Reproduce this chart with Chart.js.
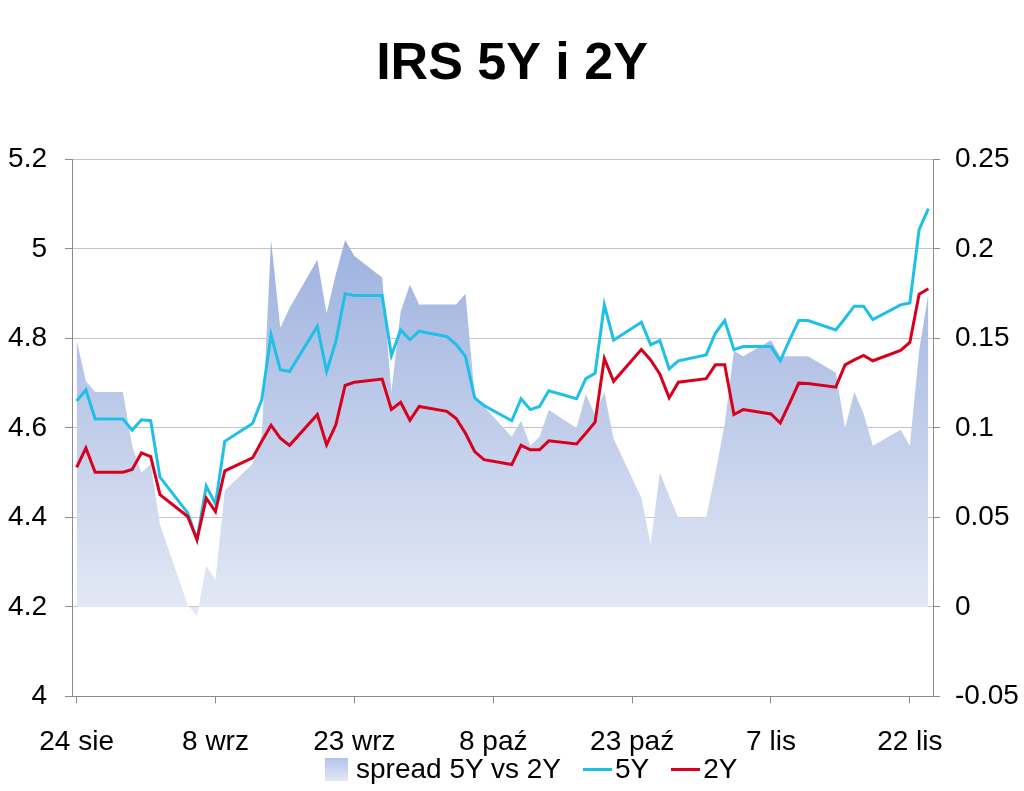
<!DOCTYPE html>
<html>
<head>
<meta charset="utf-8">
<title>IRS 5Y i 2Y</title>
<script src="https://cdn.jsdelivr.net/npm/chart.js@4.4.0/dist/chart.umd.min.js"></script>
<style>
    html, body { margin: 0; padding: 0; background: #fff; }
    #wrap { position: relative; width: 1024px; height: 791px; }
    #legend {
        position: absolute; left: 325px; top: 752px; height: 34px;
        display: flex; align-items: center;
        font-family: 'Liberation Sans', Arial, sans-serif; font-size: 28px; color: #000;
        white-space: nowrap;
    }
    #legend .box { width: 23px; height: 23px; background: linear-gradient(#b3c2ea, #e3e8f5); margin-right: 8px; }
    #legend .line { width: 29px; height: 3px; margin-left: 22px; margin-right: 3px; }
</style>
</head>
<body>
<div id="wrap">
    <canvas id="irs-chart" width="1024" height="791"></canvas>
    <div id="legend"></div>
</div>
<script>
// trading days (24 sie is a Wednesday)
const dates = [
    '2011-08-24', '2011-08-25', '2011-08-26',
    '2011-08-29', '2011-08-30', '2011-08-31', '2011-09-01', '2011-09-02',
    '2011-09-05', '2011-09-06', '2011-09-07', '2011-09-08', '2011-09-09',
    '2011-09-12', '2011-09-13', '2011-09-14', '2011-09-15', '2011-09-16',
    '2011-09-19', '2011-09-20', '2011-09-21', '2011-09-22', '2011-09-23',
    '2011-09-26', '2011-09-27', '2011-09-28', '2011-09-29', '2011-09-30',
    '2011-10-03', '2011-10-04', '2011-10-05', '2011-10-06', '2011-10-07',
    '2011-10-10', '2011-10-11', '2011-10-12', '2011-10-13', '2011-10-14',
    '2011-10-17', '2011-10-18', '2011-10-19', '2011-10-20', '2011-10-21',
    '2011-10-24', '2011-10-25', '2011-10-26', '2011-10-27', '2011-10-28',
    '2011-10-31', '2011-11-01', '2011-11-02', '2011-11-03', '2011-11-04',
    '2011-11-07', '2011-11-08', '2011-11-09', '2011-11-10', '2011-11-11',
    '2011-11-14', '2011-11-15', '2011-11-16', '2011-11-17', '2011-11-18',
    '2011-11-21', '2011-11-22', '2011-11-23', '2011-11-24'
];

const irs5y = [
    4.66, 4.685, 4.62,
    4.62, 4.595, 4.618, 4.616, 4.49,
    4.41, 4.35, 4.47, 4.43, 4.57,
    4.61, 4.663, 4.808, 4.73, 4.726,
    4.827, 4.726, 4.793, 4.90, 4.896,
    4.896, 4.762, 4.819, 4.797, 4.816,
    4.804, 4.786, 4.76, 4.667, 4.65,
    4.616, 4.665, 4.641, 4.648, 4.683,
    4.665, 4.71, 4.722, 4.875, 4.796,
    4.836, 4.786, 4.795, 4.732, 4.75,
    4.763, 4.812, 4.84, 4.775, 4.782,
    4.782, 4.75, 4.796, 4.84, 4.84,
    4.819, 4.845, 4.872, 4.872, 4.842,
    4.875, 4.879, 5.043, 5.09
];

const irs2y = [
    4.512, 4.555, 4.501,
    4.501, 4.507, 4.544, 4.536, 4.451,
    4.402, 4.35, 4.443, 4.413, 4.504,
    4.533, 4.57, 4.606, 4.577, 4.561,
    4.63, 4.562, 4.607, 4.695, 4.702,
    4.709, 4.641, 4.657, 4.617, 4.648,
    4.637, 4.621, 4.588, 4.547, 4.529,
    4.518, 4.561, 4.551, 4.551, 4.571,
    4.564, 4.588, 4.613, 4.755, 4.704,
    4.775, 4.752, 4.72, 4.667, 4.702,
    4.71, 4.741, 4.741, 4.63, 4.641,
    4.631, 4.611, 4.655, 4.70, 4.699,
    4.691, 4.741, 4.752, 4.762, 4.75,
    4.773, 4.791, 4.899, 4.911
];

const spread = [
    0.149, 0.126, 0.12,
    0.12, 0.09, 0.075, 0.08, 0.046,
    0.001, -0.005, 0.023, 0.015, 0.065,
    0.08, 0.096, 0.205, 0.156, 0.167,
    0.194, 0.164, 0.186, 0.205, 0.196,
    0.184, 0.12, 0.165, 0.18, 0.169,
    0.169, 0.169, 0.175, 0.118, 0.112,
    0.095, 0.104, 0.09, 0.095, 0.11,
    0.10, 0.119, 0.107, 0.12, 0.094,
    0.061, 0.035, 0.075, 0.062, 0.05,
    0.05, 0.075, 0.102, 0.143, 0.14,
    0.149, 0.14, 0.14, 0.14, 0.14,
    0.131, 0.10, 0.12, 0.108, 0.09,
    0.099, 0.09, 0.143, 0.175
];

const tickDates = ['2011-08-24', '2011-09-08', '2011-09-23', '2011-10-08', '2011-10-23', '2011-11-07', '2011-11-22'];
const tickLabels = ['24 sie', '8 wrz', '23 wrz', '8 paź', '23 paź', '7 lis', '22 lis'];
const leftTicks = [4, 4.2, 4.4, 4.6, 4.8, 5, 5.2];
const leftTickLabels = ['4', '4.2', '4.4', '4.6', '4.8', '5', '5.2'];
const rightTicks = [-0.05, 0, 0.05, 0.1, 0.15, 0.2, 0.25];
const rightTickLabels = ['-0.05', '0', '0.05', '0.1', '0.15', '0.2', '0.25'];

const seriesNames = ['spread 5Y vs 2Y', '5Y', '2Y'];
const colour5y = '#1ec0e8';
const colour2y = '#d8001c';

// day number counted from the first date
function dayOf(d) {
    return Math.round((Date.parse(d) - Date.parse(dates[0])) / 864e5);
}

function toPoints(values) {
    return dates.map((d, i) => ({ x: dayOf(d), y: values[i] }));
}

// legend below the plot, as html
const legend = document.getElementById('legend');
legend.innerHTML =
    '<span class="box"></span><span>' + seriesNames[0] + '</span>' +
    '<span class="line" style="background:' + colour5y + '"></span><span>' + seriesNames[1] + '</span>' +
    '<span class="line" style="background:' + colour2y + '"></span><span>' + seriesNames[2] + '</span>';

Chart.defaults.font.family = "'Liberation Sans', Arial, sans-serif";
Chart.defaults.font.size = 28;
Chart.defaults.color = '#000';

const axisGrey = '#8c8c8c';

const ctx = document.getElementById('irs-chart').getContext('2d');
new Chart(ctx, {
    type: 'line',
    data: {
        datasets: [{
            label: seriesNames[0],
            data: toPoints(spread),
            yAxisID: 'y2',
            order: 3,
            fill: 'origin',
            borderWidth: 0,
            borderColor: 'rgba(0,0,0,0)',
            pointRadius: 0,
            backgroundColor: function(context) {
                const chart = context.chart;
                const area = chart.chartArea;
                if (!area) return '#c5d0ee';
                const zeroY = chart.scales.y2.getPixelForValue(0);
                const g = chart.ctx.createLinearGradient(0, area.top, 0, zeroY);
                g.addColorStop(0, '#8fa6da');
                g.addColorStop(1, '#e2e8f5');
                return g;
            }
        }, {
            label: seriesNames[1],
            data: toPoints(irs5y),
            yAxisID: 'y',
            order: 2,
            borderColor: colour5y,
            borderWidth: 3,
            pointRadius: 0,
            fill: false
        }, {
            label: seriesNames[2],
            data: toPoints(irs2y),
            yAxisID: 'y',
            order: 1,
            borderColor: colour2y,
            borderWidth: 3,
            pointRadius: 0,
            fill: false
        }]
    },
    options: {
        responsive: false,
        animation: false,
        layout: { padding: { left: 0, right: 0, top: 0, bottom: 10 } },
        plugins: {
            title: {
                display: true,
                text: 'IRS 5Y i 2Y',
                color: '#000',
                font: { size: 52, weight: 'bold' },
                padding: { top: 33, bottom: 64 }
            },
            legend: { display: false },
            tooltip: { enabled: false }
        },
        scales: {
            x: {
                type: 'linear',
                min: -0.5,
                max: 92.5,
                grid: { drawOnChartArea: false, drawTicks: true, tickLength: 7, color: axisGrey },
                border: { color: axisGrey },
                afterBuildTicks: function(scale) {
                    scale.ticks = tickDates.map(d => ({ value: dayOf(d) }));
                },
                ticks: {
                    padding: 22,
                    maxRotation: 0,
                    autoSkip: false,
                    callback: (v, i) => tickLabels[i]
                }
            },
            y: {
                position: 'left',
                min: 4,
                max: 5.2,
                grid: { color: '#c4c4c4', tickColor: axisGrey, tickLength: 7 },
                border: { color: axisGrey },
                afterBuildTicks: function(scale) {
                    scale.ticks = leftTicks.map(v => ({ value: v }));
                },
                afterFit: function(scale) { scale.width = 72; },
                ticks: {
                    padding: 18,
                    callback: (v, i) => leftTickLabels[i]
                }
            },
            y2: {
                position: 'right',
                min: -0.05,
                max: 0.25,
                grid: { drawOnChartArea: false, tickColor: axisGrey, tickLength: 7 },
                border: { color: axisGrey },
                afterBuildTicks: function(scale) {
                    scale.ticks = rightTicks.map(v => ({ value: v }));
                },
                afterFit: function(scale) { scale.width = 91; },
                ticks: {
                    padding: 15,
                    callback: (v, i) => rightTickLabels[i]
                }
            }
        }
    }
});
</script>
</body>
</html>
